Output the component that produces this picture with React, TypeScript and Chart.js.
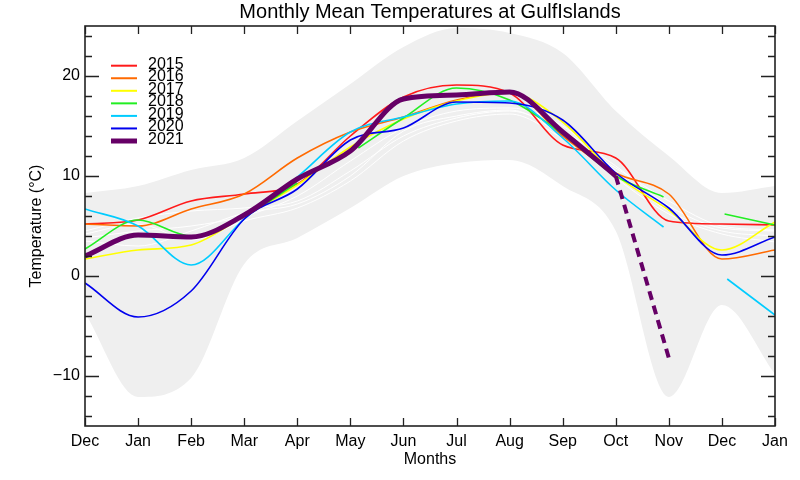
import React, { useEffect, useRef } from 'react';
import { Chart, registerables } from 'chart.js';

Chart.register(...registerables);

const FONT = "'Liberation Sans', Arial, Helvetica, sans-serif";

const MONTH_LABELS = ['Dec', 'Jan', 'Feb', 'Mar', 'Apr', 'May', 'Jun', 'Jul', 'Aug', 'Sep', 'Oct', 'Nov', 'Dec', 'Jan'];
const MONTH_X = [0, 1, 2, 3, 4, 5, 6, 7, 8, 9, 10, 11, 12, 13];
const Y_TICKS = [-10, 0, 10, 20];

// envelope (grey band)
const BAND_MAX = [8.3, 9.0, 10.6, 11.8, 15.5, 19.2, 22.9, 24.8, 24.3, 22.3, 16.5, 12.0, 8.3, 9.0];
const BAND_MIN = [-3.7, -12.1, -10.2, 1.2, 3.8, 6.8, 10.0, 11.3, 11.6, 9.0, 4.5, -12.1, -2.9, -9.8];

// other years (white)
const W1 = [4.5, 5.8, 6.5, 6.8, 7.5, 10.5, 14.0, 15.8, 16.5, 14.5, 11.0, 7.0, 4.8, 4.5];
const W2 = [3.8, 4.5, 5.0, 6.0, 8.0, 11.5, 14.8, 16.5, 16.8, 15.0, 10.5, 6.5, 4.5, 4.0];
const W3 = [4.2, 5.2, 3.6, 5.5, 6.8, 9.5, 13.5, 15.5, 16.2, 13.8, 10.8, 7.5, 5.0, 4.6];
const W4 = [3.5, 3.0, 4.5, 6.3, 7.2, 10.0, 14.5, 16.0, 16.6, 14.0, 9.8, 6.2, 4.2, 3.4];

// highlighted years
const T2015 = [5.2, 5.6, 7.5, 8.2, 9.2, 14.0, 17.9, 19.1, 18.3, 13.1, 11.8, 5.5, 5.2, 5.1];
const T2016 = [5.2, 5.0, 6.7, 8.2, 11.8, 14.4, 15.9, 17.6, 18.4, 14.0, 10.3, 8.2, 1.7, 2.6];
const T2017 = [1.7, 2.6, 3.1, 6.0, 9.1, 12.9, 15.7, 17.5, 18.3, 15.4, 10.1, 6.6, 2.6, 5.4];
const X2018 = [0, 1, 2, 3, 4, 4.5, 5.15, 6, 7, 8, 9, 10, 10.9, 11.5, 12.05, 13];
const T2018 = [2.7, 5.6, 4.0, 6.0, 9.3, null, 12.8, 15.8, 18.8, 17.6, 14.2, 10.0, 7.9, null, 6.2, 5.1];
const X2019 = [0, 1, 2, 3, 4, 5, 6, 7, 8, 9, 10, 10.9, 11.5, 12.1, 13];
const T2019 = [6.7, 5.0, 1.1, 5.7, 9.9, 14.4, 15.9, 17.2, 17.5, 13.8, 8.6, 4.9, null, -0.3, -3.9];
const T2020 = [-0.7, -4.1, -1.5, 5.7, 8.7, 13.6, 14.8, 17.4, 17.3, 15.6, 10.3, 6.8, 2.1, 3.9];
const X2021 = [0, 1, 2, 3, 4, 5, 6, 7, 8, 9, 10];
const T2021 = [2.0, 4.1, 3.9, 6.1, 9.7, 12.5, 17.7, 18.1, 18.4, 14.4, 10.0];
const X2021_DASH = [10, 11];
const T2021_DASH = [10.0, -8.2];

const YEARS = ['2015', '2016', '2017', '2018', '2019', '2020', '2021'];
const COLORS = ['#ff1a1a', '#ff6a00', '#ffff00', '#22ee22', '#00ccff', '#0000ee', '#660066'];

const pts = (xs: number[], ys: (number | null)[]) => xs.map((x, i) => ({ x, y: ys[i] }));

const legendPlugin = {
  id: 'yearLegend',
  afterDraw(chart: any) {
    const ctx = chart.ctx;
    ctx.save();
    ctx.font = `16px ${FONT}`;
    ctx.textBaseline = 'alphabetic';
    ctx.textAlign = 'left';
    YEARS.forEach((yr, i) => {
      const ly = 65.7 + i * 12.55;
      ctx.strokeStyle = COLORS[i];
      ctx.lineWidth = yr === '2021' ? 5 : 2;
      ctx.beginPath();
      ctx.moveTo(111, ly);
      ctx.lineTo(137, ly);
      ctx.stroke();
      ctx.fillStyle = '#000';
      ctx.fillText(yr, 148, ly + 3);
    });
    ctx.restore();
  },
};

const framePlugin = {
  id: 'frameTicks',
  afterDraw(chart: any) {
    const { ctx, chartArea } = chart;
    const { left, right, top, bottom } = chartArea;
    const xs = chart.scales.x;
    const ys = chart.scales.y;
    ctx.save();
    ctx.strokeStyle = '#222';
    ctx.lineWidth = 1.3;
    ctx.beginPath();
    for (const v of MONTH_X) {
      const px = Math.round(xs.getPixelForValue(v)) + 0.5;
      ctx.moveTo(px, bottom);
      ctx.lineTo(px, bottom - 8);
      ctx.moveTo(px, top);
      ctx.lineTo(px, top + 8);
    }
    for (let v = -14; v <= 24; v += 2) {
      const py = Math.round(ys.getPixelForValue(v)) + 0.5;
      const len = v % 10 === 0 ? 14 : 7;
      ctx.moveTo(left, py);
      ctx.lineTo(left + len, py);
      ctx.moveTo(right, py);
      ctx.lineTo(right - len, py);
    }
    ctx.stroke();
    ctx.lineWidth = 1.6;
    ctx.strokeRect(left, top, right - left, bottom - top);
    ctx.restore();
  },
};

export default function App() {
  const ref = useRef<HTMLCanvasElement>(null);

  useEffect(() => {
    if (!ref.current) return;
    const thin = (label: string, xs: number[], ys: (number | null)[], color: string, order: number) => ({
      label,
      data: pts(xs, ys),
      borderColor: color,
      borderWidth: 1.6,
      pointRadius: 0,
      fill: false,
      order,
      spanGaps: false,
      cubicInterpolationMode: 'monotone' as const,
    });
    const white = (d: number[]) => ({
      label: 'other',
      data: pts(MONTH_X, d),
      borderColor: '#ffffff',
      borderWidth: 1,
      pointRadius: 0,
      fill: false,
      order: 50,
      cubicInterpolationMode: 'monotone' as const,
    });

    const chart = new Chart(ref.current, {
      type: 'line',
      data: {
        datasets: [
          {
            label: 'max',
            data: pts(MONTH_X, BAND_MAX),
            borderWidth: 0,
            borderColor: 'rgba(0,0,0,0)',
            backgroundColor: '#efefef',
            pointRadius: 0,
            fill: '+1',
            order: 100,
            cubicInterpolationMode: 'monotone',
          },
          {
            label: 'min',
            data: pts(MONTH_X, BAND_MIN),
            borderWidth: 0,
            borderColor: 'rgba(0,0,0,0)',
            pointRadius: 0,
            fill: false,
            order: 100,
            cubicInterpolationMode: 'monotone',
          },
          white(W1),
          white(W2),
          white(W3),
          white(W4),
          thin('2015', MONTH_X, T2015, COLORS[0], 16),
          thin('2016', MONTH_X, T2016, COLORS[1], 15),
          thin('2017', MONTH_X, T2017, COLORS[2], 14),
          thin('2018', X2018, T2018, COLORS[3], 13),
          thin('2019', X2019, T2019, COLORS[4], 12),
          thin('2020', MONTH_X, T2020, COLORS[5], 11),
          {
            label: '2021',
            data: pts(X2021, T2021),
            borderColor: COLORS[6],
            borderWidth: 5,
            pointRadius: 0,
            fill: false,
            order: 1,
            cubicInterpolationMode: 'monotone',
          },
          {
            label: '2021 forecast',
            data: pts(X2021_DASH, T2021_DASH),
            borderColor: COLORS[6],
            borderWidth: 4,
            borderDash: [9, 6],
            borderCapStyle: 'butt',
            pointRadius: 0,
            fill: false,
            order: 0,
            tension: 0,
          },
        ],
      },
      options: {
        animation: false,
        responsive: false,
        devicePixelRatio: 1,
        layout: { padding: { left: 0, right: 25, top: 0, bottom: 0 } },
        plugins: {
          legend: { display: false },
          tooltip: { enabled: false },
          title: {
            display: true,
            text: 'Monthly Mean Temperatures at GulfIslands',
            fullSize: false,
            color: '#000',
            font: { family: FONT, size: 20, weight: 'normal', lineHeight: 1.15 },
            padding: { top: 1, bottom: 2 },
          },
        },
        scales: {
          x: {
            type: 'linear',
            min: 0,
            max: 13,
            afterFit: (s: any) => { s.height = 54; },
            afterBuildTicks: (s: any) => { s.ticks = MONTH_X.map((v) => ({ value: v })); },
            grid: { display: false, drawTicks: false },
            border: { display: false },
            ticks: {
              autoSkip: false,
              maxRotation: 0,
              padding: 6,
              color: '#000',
              font: { family: FONT, size: 16 },
              callback: (v: any) => MONTH_LABELS[Math.round(Number(v))] ?? '',
            },
            title: {
              display: true,
              text: 'Months',
              color: '#000',
              font: { family: FONT, size: 16 },
              padding: { top: 0, bottom: 11 },
            },
          },
          y: {
            type: 'linear',
            min: -15,
            max: 25,
            afterFit: (s: any) => { s.width = 85; },
            afterBuildTicks: (s: any) => { s.ticks = Y_TICKS.map((v) => ({ value: v })); },
            grid: { display: false, drawTicks: false },
            border: { display: false },
            ticks: {
              padding: 5,
              color: '#000',
              font: { family: FONT, size: 16 },
              callback: (v: any) => (Number(v) < 0 ? '\u2212' + Math.abs(Number(v)) : String(v)),
            },
            title: {
              display: true,
              text: 'Temperature (\u00B0C)',
              color: '#000',
              font: { family: FONT, size: 16 },
              padding: { top: 27, bottom: 0 },
            },
          },
        },
      },
      plugins: [framePlugin, legendPlugin],
    } as any);

    return () => chart.destroy();
  }, []);

  return (
    <div style={{ position: 'fixed', left: 0, top: 0, width: 800, height: 480, background: '#fff' }}>
      <canvas ref={ref} width={800} height={480} />
    </div>
  );
}
